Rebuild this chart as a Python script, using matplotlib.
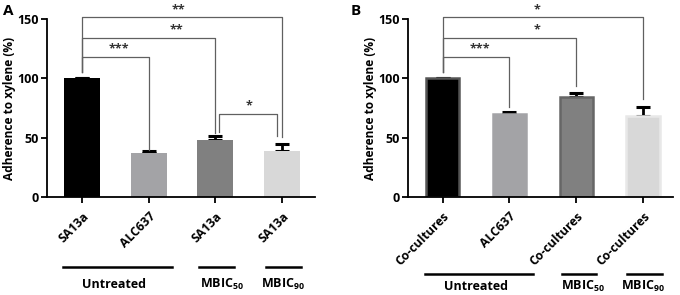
import matplotlib
matplotlib.use("Agg")
import matplotlib.pyplot as plt

plt.rcParams['font.family'] = ['Open Sans', 'DejaVu Sans']
plt.rcParams['font.weight'] = 'bold'
plt.rcParams['mathtext.fontset'] = 'custom'
plt.rcParams['mathtext.rm'] = 'Open Sans:bold'
plt.rcParams['mathtext.bf'] = 'Open Sans:bold'

# ---- data ----
labels_a = ["SA13a", "ALC637", "SA13a", "SA13a"]
values_a = [100, 36.8, 47.7, 39.0]
errors_a = [0, 1.9, 3.9, 5.9]
colors_a = ["#000000", "#a3a3a6", "#808080", "#d8d8d8"]

labels_b = ["Co-cultures", "ALC637", "Co-cultures", "Co-cultures"]
values_b = [100, 70.2, 84.2, 68.2]
errors_b = [0, 1.7, 3.4, 7.4]
colors_b = ["#000000", "#a3a3a6", "#808080", "#d8d8d8"]
edges_b = ["#555555", "#a3a3a6", "#666666", "#e8e8e8"]

# brackets: (x1, x2, y_top, y_left_end, y_right_end, stars, star_x)
brackets_a = [
    (0, 1, 118.2, 105.6, 39.6, "***", 0.55),
    (0, 2, 134.2, 105.6, 53.6, "**", 1.42),
    (0, 3, 151.4, 105.6, 50.6, "**", 1.45),
    (2.06, 2.92, 70.0, 55.0, 51.4, "*", 2.5),
]
brackets_b = [
    (0, 1, 118.2, 105.6, 75.6, "***", 0.56),
    (0, 2, 134.2, 105.6, 93.5, "*", 1.42),
    (0, 3, 151.4, 105.6, 83.0, "*", 1.42),
]

groups_a = [("Untreated", -0.285, 1.35, 0.48), ("MBIC$_{50}$", 1.75, 2.28, 2.1), ("MBIC$_{90}$", 2.76, 3.28, 3.01)]
groups_b = [("Untreated", -0.265, 1.35, 0.5), ("MBIC$_{50}$", 1.79, 2.3, 2.1), ("MBIC$_{90}$", 2.76, 3.28, 3.0)]

yticks = [0, 50, 100, 150]

fig = plt.figure(figsize=(6.8, 2.95), dpi=100)
H = 295.0
W = 680.0

def make_ax(left_px, right_px):
    return fig.add_axes([left_px / W, 1 - 197 / H, (right_px - left_px) / W, (197 - 19) / H])

ax_a = make_ax(47, 315)
ax_b = make_ax(408, 673)


def draw(ax, labels, values, errors, colors, edges, width, lw, brackets, groups, xlim, line_y, text_y):
    x = list(range(len(values)))
    ax.bar(x, values, width=width, color=colors, edgecolor=edges, linewidth=lw, zorder=2)
    ax.errorbar(x, values, yerr=[[0] * len(errors), errors], fmt='none', ecolor='black',
                elinewidth=2, capsize=5, capthick=2.2, zorder=1)
    ax.set_xlim(*xlim)
    ax.set_ylim(0, 150)
    ax.set_yticks(yticks)
    ax.set_xticks(x)
    ax.set_xticklabels(labels, rotation=45, ha='right', va='top', rotation_mode='anchor',
                       fontsize=8.8, fontweight='bold')
    for t in ax.get_yticklabels():
        t.set_fontsize(9)
        t.set_fontweight('bold')
    ax.spines['top'].set_visible(False)
    ax.spines['right'].set_visible(False)
    ax.spines['left'].set_linewidth(1.3)
    ax.spines['bottom'].set_linewidth(1.3)
    ax.tick_params(axis='both', direction='out', length=4, width=1.3, pad=2)
    ax.tick_params(axis='x', pad=5)
    ax.set_ylabel("Adherence to xylene (%)", fontsize=8.6, fontweight='bold', labelpad=1)
    for (x1, x2, yt, yl, yr, s, sx) in brackets:
        ax.plot([x1, x1, x2, x2], [yl, yt, yt, yr], color='#606060', lw=0.9, clip_on=False, zorder=4)
        ax.text(sx, yt + 1.0, s, ha='center', va='bottom', fontsize=9, fontweight='bold',
                color='#333333', clip_on=False)
    tr = ax.get_xaxis_transform()
    for (name, g1, g2, gc) in groups:
        ax.plot([g1, g2], [line_y, line_y], color='black', lw=1.8, transform=tr, clip_on=False)
        ax.text(gc, text_y, name, transform=tr, ha='center', va='center', fontsize=9,
                fontweight='bold')


draw(ax_a, labels_a, values_a, errors_a, colors_a, colors_a, 0.54, 0.0, brackets_a, groups_a,
     (-0.525, 3.495), -0.393, -0.49)
draw(ax_b, labels_b, values_b, errors_b, colors_b, edges_b, 0.5, 1.8, brackets_b, groups_b,
     (-0.52, 3.45), -0.433, -0.505)

fig.text(3 / W, 1 - 11 / H, "A", fontsize=11, fontweight='bold', ha='left', va='center')
fig.text(351 / W, 1 - 11 / H, "B", fontsize=11, fontweight='bold', ha='left', va='center')

fig.savefig("out.png", dpi=100)
